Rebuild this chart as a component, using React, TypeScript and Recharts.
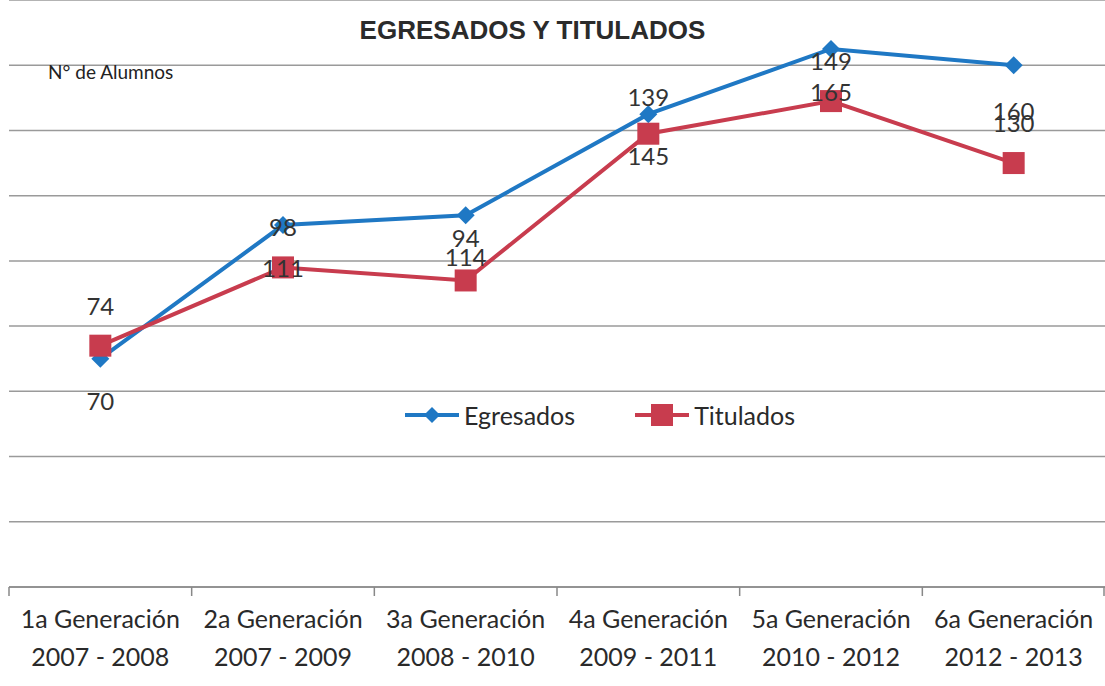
import { LineChart, Line, XAxis, YAxis, CartesianGrid, LabelList } from 'recharts';

// categorías (dos renglones por etiqueta)
const categories = ['1a Generación', '2a Generación', '3a Generación', '4a Generación', '5a Generación', '6a Generación'];
const periods = ['2007 - 2008', '2007 - 2009', '2008 - 2010', '2009 - 2011', '2010 - 2012', '2012 - 2013'];

const egresados = [70, 111, 114, 145, 165, 160];
const titulados = [74, 98, 94, 139, 149, 130];

// etiquetas tal como aparecen junto a cada marcador
const egresadosLabels = ['70', '98', '94', '139', '149', '160'];
const tituladosLabels = ['74', '111', '114', '145', '165', '130'];

const yTicks = [0, 20, 40, 60, 80, 100, 120, 140, 160];

// desplazamiento vertical de cada etiqueta respecto a su punto
const egresadosLabelDy = [43, 3, 23, -17, 13, 46];
const tituladosLabelDy = [-39, 1, -23, 23, -8, -39];

const BLUE = '#1f78c4';
const RED = '#c83c4e';
const FONT = 'Lato, "Open Sans", sans-serif';

const W = 1105;
const H = 686;
const LEFT = 9;
const AXIS_Y = 587;
const BAND = (W - LEFT) / categories.length;

const data = categories.map((c, i) => ({
  name: c,
  egresados: egresados[i],
  titulados: titulados[i],
}));

const Diamond = (props: any) => {
  const { cx, cy } = props;
  if (cx == null || cy == null) return null;
  const r = 9;
  return <polygon points={`${cx},${cy - r} ${cx + r},${cy} ${cx},${cy + r} ${cx - r},${cy}`} fill={BLUE} />;
};

const Square = (props: any) => {
  const { cx, cy } = props;
  if (cx == null || cy == null) return null;
  const s = 22;
  return <rect x={cx - s / 2} y={cy - s / 2} width={s} height={s} fill={RED} />;
};

const makeLabel = (texts: string[], dys: number[]) => (props: any) => {
  const { x, y, index } = props;
  return (
    <text x={x} y={y + dys[index]} dy="0.35em" textAnchor="middle" fontFamily={FONT} fontSize={24} fill="#333">
      {texts[index]}
    </text>
  );
};

const GenTick = (props: any) => {
  const { x, y, payload, index } = props;
  const i = index ?? categories.indexOf(payload.value);
  return (
    <g>
      <line x1={x - BAND / 2} x2={x - BAND / 2} y1={y} y2={y + 9} stroke="#888" strokeWidth={1.5} />
      {i === categories.length - 1 && (
        <line x1={x + BAND / 2 - 1} x2={x + BAND / 2 - 1} y1={y} y2={y + 9} stroke="#888" strokeWidth={1.5} />
      )}
      <text x={x} y={y + 41} textAnchor="middle" fontFamily={FONT} fontSize={25} fill="#2a2a2a">
        {payload.value}
      </text>
      <text x={x} y={y + 79} textAnchor="middle" fontFamily={FONT} fontSize={25} fill="#2a2a2a">
        {periods[i]}
      </text>
    </g>
  );
};

const LegendBox = () => (
  <div
    style={{
      position: 'absolute',
      top: 400,
      left: 403,
      display: 'flex',
      alignItems: 'center',
      fontFamily: FONT,
      fontSize: 25,
      color: '#2a2a2a',
      lineHeight: '30px',
    }}
  >
    <svg width={58} height={24}>
      <line x1={2} x2={56} y1={12} y2={12} stroke={BLUE} strokeWidth={4} />
      <polygon points="29,4 37,12 29,20 21,12" fill={BLUE} />
    </svg>
    <span style={{ marginLeft: 3 }}>Egresados</span>
    <svg width={58} height={24} style={{ marginLeft: 58 }}>
      <line x1={2} x2={56} y1={12} y2={12} stroke={RED} strokeWidth={4} />
      <rect x={18} y={1} width={22} height={22} fill={RED} />
    </svg>
    <span style={{ marginLeft: 3 }}>Titulados</span>
  </div>
);

export default function App() {
  return (
    <div style={{ position: 'absolute', top: 0, left: 0, width: W, height: H, background: '#fff' }}>
      <LineChart width={W} height={H} data={data} margin={{ top: 0, right: 0, left: LEFT, bottom: 0 }}>
        <CartesianGrid horizontal vertical={false} stroke="#9a9a9a" strokeWidth={1.5} />
        <XAxis
          dataKey="name"
          height={H - AXIS_Y}
          interval={0}
          tickSize={0}
          tickMargin={0}
          tickLine={false}
          padding={{ left: BAND / 2, right: BAND / 2 }}
          axisLine={{ stroke: '#888', strokeWidth: 1.5 }}
          tick={<GenTick />}
        />
        <YAxis hide domain={[0, 180]} ticks={yTicks} />
        <Line
          type="linear"
          dataKey="egresados"
          name="Egresados"
          stroke={BLUE}
          strokeWidth={4}
          dot={<Diamond />}
          activeDot={false}
          isAnimationActive={false}
        >
          <LabelList dataKey="egresados" content={makeLabel(egresadosLabels, egresadosLabelDy)} />
        </Line>
        <Line
          type="linear"
          dataKey="titulados"
          name="Titulados"
          stroke={RED}
          strokeWidth={4}
          dot={<Square />}
          activeDot={false}
          isAnimationActive={false}
        >
          <LabelList dataKey="titulados" content={makeLabel(tituladosLabels, tituladosLabelDy)} />
        </Line>
      </LineChart>
      <LegendBox />
      <div
        style={{
          position: 'absolute',
          top: 14,
          left: 0,
          width: W,
          textAlign: 'center',
          fontFamily: '"Liberation Sans", Arial, sans-serif',
          fontWeight: 'bold',
          fontSize: 26,
          color: '#2b2b2b',
          lineHeight: '32px',
        }}
      >
        <span style={{ position: 'relative', left: -20 }}>EGRESADOS Y TITULADOS</span>
      </div>
      <div
        style={{
          position: 'absolute',
          top: 60,
          left: 48,
          fontFamily: FONT,
          fontSize: 19,
          color: '#222',
          lineHeight: '24px',
        }}
      >
        N° de Alumnos
      </div>
    </div>
  );
}
